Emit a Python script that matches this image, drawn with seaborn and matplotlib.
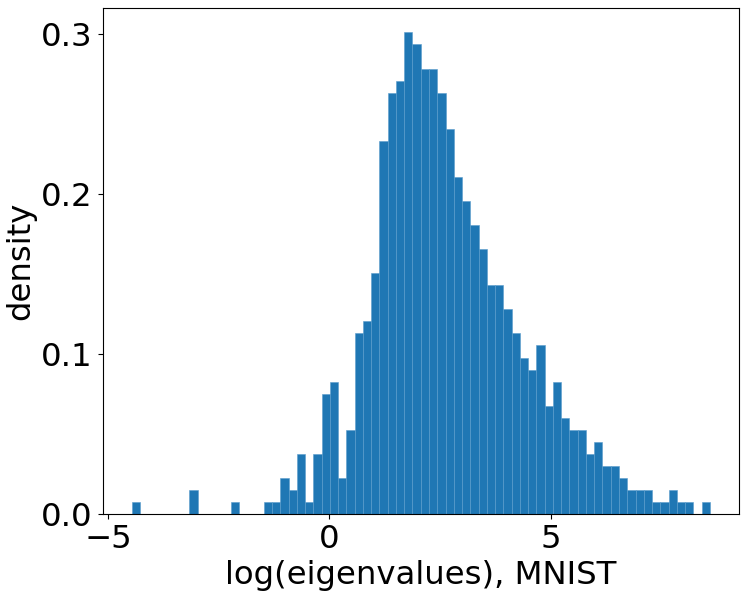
import numpy as np
import pandas as pd
import matplotlib
matplotlib.use("Agg")
import matplotlib.pyplot as plt
import seaborn as sns

# Histogram of log eigenvalues (MNIST): 70 equal-width bins
x_min = -4.468
x_max = 8.596
n_bins = 70
counts = [1, 0, 0, 0, 0, 0, 0, 2, 0, 0,
          0, 0, 1, 0, 0, 0, 1, 1, 3, 2,
          5, 1, 5, 10, 11, 3, 7, 15, 16, 20,
          31, 35, 36, 40, 39, 37, 37, 35, 32, 28,
          26, 24, 22, 19, 19, 17, 15, 13, 12, 14,
          9, 11, 8, 7, 7, 5, 6, 4, 4, 3,
          2, 2, 2, 1, 1, 2, 1, 1, 0, 1]
x_label = "log(eigenvalues), MNIST"
y_label = "density"

edges = np.linspace(x_min, x_max, n_bins + 1)
centers = (edges[:-1] + edges[1:]) / 2
df = pd.DataFrame({"value": centers, "count": counts})

fig = plt.figure(figsize=(7.47, 5.97), dpi=100)
ax = fig.add_axes([0.1375, 0.139, 0.8515, 0.847])

sns.histplot(data=df, x="value", weights="count", bins=n_bins,
             binrange=(x_min, x_max), stat="density",
             color="#1f77b4", alpha=1.0, edgecolor="#5a9ccc", linewidth=0.4, ax=ax)

fs = 23.3
ax.set_xlabel(x_label, fontsize=fs)
ax.set_ylabel(y_label, fontsize=fs)
ax.tick_params(axis="both", labelsize=fs)
ax.set_xticks([-5, 0, 5])
ax.set_yticks([0.0, 0.1, 0.2, 0.3])
ax.set_yticklabels(["0.0", "0.1", "0.2", "0.3"])

fig.savefig("out.png", dpi=100)
